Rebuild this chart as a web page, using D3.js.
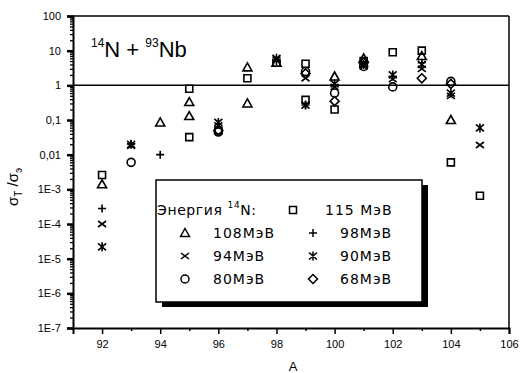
<!DOCTYPE html>
<html><head><meta charset="utf-8">
<script src="https://cdn.jsdelivr.net/npm/d3@7"></script>
<style>body{margin:0;background:#fff}svg{display:block}</style>
</head><body>
<script>
// ---- data ----
const xTicks = [92, 94, 96, 98, 100, 102, 104, 106];
const xMinorTicks = [93, 95, 97, 99, 101, 103, 105];
const yTicks = [1e2, 1e1, 1, 1e-1, 1e-2, 1e-3, 1e-4, 1e-5, 1e-6, 1e-7];
const yTickLabels = ["100", "10", "1", "0,1", "0,01", "1E-3", "1E-4", "1E-5", "1E-6", "1E-7"];

const seriesNames = ["115 МэВ", "108МэВ", "98МэВ", "94МэВ", "90МэВ", "80МэВ", "68МэВ"];
const seriesSymbols = ["square", "triangle", "plus", "cross", "asterisk", "circle", "diamond"];

const A115 = [92, 95, 95, 96, 97, 98, 99, 99, 100, 101, 102, 103, 104, 105];
const V115 = [2.6e-3, 0.8, 0.032, 0.05, 1.6, 4.5, 4.2, 0.38, 0.2, 5, 9, 10, 6e-3, 6.5e-4];
const A108 = [92, 94, 95, 95, 97, 97, 98, 100, 101, 103, 104];
const V108 = [1.4e-3, 0.085, 0.33, 0.13, 3.3, 0.3, 4.5, 1.8, 6, 7, 0.1];
const A98 = [92, 93, 94, 98, 99, 102, 103];
const V98 = [2.8e-4, 0.02, 0.01, 5, 0.27, 1.8, 4.5];
const A94 = [92, 93, 96, 98, 99, 100, 101, 102, 103, 104, 105];
const V94 = [1e-4, 0.018, 0.07, 5.5, 1.6, 0.9, 3.5, 1.5, 3, 0.5, 0.019];
const A90 = [92, 93, 96, 98, 99, 100, 101, 102, 103, 104, 105];
const V90 = [2.2e-5, 0.02, 0.085, 6, 0.27, 1.1, 4, 2, 4, 0.6, 0.059];
const A80 = [93, 96, 99, 100, 101, 102, 104];
const V80 = [6e-3, 0.045, 2.5, 0.6, 3.5, 0.9, 1.3];
const A68 = [96, 99, 100, 101, 103, 104];
const V68 = [0.05, 2.2, 0.35, 4.5, 1.6, 1.1];

const seriesA = [A115, A108, A98, A94, A90, A80, A68];
const seriesV = [V115, V108, V98, V94, V90, V80, V68];

// ---- layout ----
const W = 521, H = 373;
const L = 73, R = 509, T = 16, B = 328;

const svg = d3.select("body").append("svg").attr("width", W).attr("height", H);

const x = d3.scaleLinear().domain([91, 106]).range([L, R]);
const y = d3.scaleLog().domain([1e-7, 1e2]).range([B, T]);

const symbolPath = {
  square: "M-3.5,-3.5H3.5V3.5H-3.5Z",
  triangle: "M0,-4.5L4.5,3.5L-4.5,3.5Z",
  plus: "M-4,0H4M0,-4V4",
  cross: "M-4,-3L4,3M-4,3L4,-3",
  asterisk: "M0,-4.5V4.5M-4,-3.5L4,3.5M-4,3.5L4,-3.5",
  circle: "M-4,0A4,4 0 1,0 4,0A4,4 0 1,0 -4,0Z",
  diamond: "M0,-4.5L4.5,0L0,4.5L-4.5,0Z"
};

// frame
svg.append("line").attr("x1", L).attr("x2", R).attr("y1", T).attr("y2", T).attr("stroke", "#000").attr("stroke-width", 1.5);
svg.append("line").attr("x1", R).attr("x2", R).attr("y1", T).attr("y2", B).attr("stroke", "#000").attr("stroke-width", 1.5);
// reference line at 1
svg.append("line").attr("x1", L).attr("x2", R).attr("y1", y(1)).attr("y2", y(1)).attr("stroke", "#000").attr("stroke-width", 1.5);

// y axis
const yMinor = [];
for (let e = -7; e < 2; e++) for (let m = 2; m <= 9; m++) yMinor.push(m * Math.pow(10, e));
svg.append("g").attr("transform", `translate(${L},0)`)
  .call(d3.axisLeft(y).tickValues(yMinor).tickFormat("").tickSize(3))
  .call(g => g.select(".domain").remove())
  .call(g => g.selectAll("line").attr("stroke-width", 1.3));
const gy = svg.append("g").attr("transform", `translate(${L},0)`)
  .call(d3.axisLeft(y).tickValues(yTicks).tickFormat((d, i) => yTickLabels[i]).tickSize(6).tickPadding(6));
gy.select(".domain").attr("stroke-width", 2);
gy.selectAll("line").attr("stroke-width", 2.5);
gy.selectAll("text").attr("font-family", "Liberation Sans, Arial, sans-serif").attr("font-size", 11).attr("fill", "#000");

// x axis
svg.append("g").attr("transform", `translate(0,${B})`)
  .call(d3.axisBottom(x).tickValues(xMinorTicks).tickFormat("").tickSize(3))
  .call(g => g.select(".domain").remove())
  .call(g => g.selectAll("line").attr("stroke-width", 1.5));
const gx = svg.append("g").attr("transform", `translate(0,${B})`)
  .call(d3.axisBottom(x).tickValues(xTicks).tickFormat(d3.format("d")).tickSize(6).tickPadding(6));
gx.select(".domain").attr("stroke-width", 2);
gx.selectAll("line").attr("stroke-width", 1.5);
gx.selectAll("text").attr("font-family", "Liberation Sans, Arial, sans-serif").attr("font-size", 11).attr("fill", "#000");

// axis titles
svg.append("text").attr("x", (x(98) + x(99)) / 2 + 2).attr("y", 371).attr("text-anchor", "middle")
  .attr("font-family", "Liberation Sans, Arial, sans-serif").attr("font-size", 13).text("A");

const yl = svg.append("text").attr("transform", "translate(18,187) rotate(-90)").attr("text-anchor", "middle")
  .attr("font-family", "Liberation Sans, Arial, sans-serif").attr("font-size", 15);
yl.append("tspan").text("σ");
yl.append("tspan").attr("font-size", 10).attr("dy", 4).text("T");
yl.append("tspan").attr("dy", -4).text(" /σ");
yl.append("tspan").attr("font-size", 10).attr("dy", 4).text("э");

// title
const tt = svg.append("text").attr("x", 91).attr("y", 57)
  .attr("font-family", "Liberation Sans, Arial, sans-serif").attr("font-size", 22).attr("fill", "#000");
tt.append("tspan").attr("font-size", 12).attr("dy", -10).text("14");
tt.append("tspan").attr("dy", 10).text("N + ");
tt.append("tspan").attr("font-size", 12).attr("dy", -10).text("93");
tt.append("tspan").attr("dy", 10).text("Nb");

// data points
seriesA.forEach((As, si) => {
  svg.append("g").selectAll("path").data(As.map((a, i) => [a, seriesV[si][i]])).join("path")
    .attr("transform", d => `translate(${x(d[0])},${y(d[1])})`)
    .attr("d", symbolPath[seriesSymbols[si]])
    .attr("fill", "none").attr("stroke", "#000").attr("stroke-width", 1.6);
});

// legend
const lx = 156, ly = 180, lw = 266, lh = 122;
svg.append("rect").attr("x", lx + 6).attr("y", ly + 5).attr("width", lw).attr("height", lh).attr("fill", "#000");
svg.append("rect").attr("x", lx).attr("y", ly).attr("width", lw).attr("height", lh).attr("fill", "#fff").attr("stroke", "#000").attr("stroke-width", 1.5);

const lf = "DejaVu Sans, Verdana, sans-serif";
const rowY = [210, 233, 256, 279];
const hdr = svg.append("text").attr("x", 157).attr("y", rowY[0] + 5).attr("font-family", lf).attr("font-size", 14).attr("letter-spacing", 0.6);
hdr.append("tspan").text("Энергия ");
hdr.append("tspan").attr("font-size", 9).attr("dy", -7).text("14");
hdr.append("tspan").attr("dy", 7).text("N:");

const legendPos = [
  [293, rowY[0], 325],
  [185, rowY[1], 213], [313, rowY[1], 340],
  [185, rowY[2], 213], [313, rowY[2], 340],
  [185, rowY[3], 213], [313, rowY[3], 340]
];
seriesNames.forEach((n, i) => {
  const [sx, sy, tx] = legendPos[i];
  svg.append("path").attr("transform", `translate(${sx},${sy})`).attr("d", symbolPath[seriesSymbols[i]])
    .attr("fill", "none").attr("stroke", "#000").attr("stroke-width", 1.5);
  svg.append("text").attr("x", tx).attr("y", sy + 5).attr("font-family", lf).attr("font-size", 14)
    .attr("letter-spacing", 1).text(n);
});
</script>
</body></html>
